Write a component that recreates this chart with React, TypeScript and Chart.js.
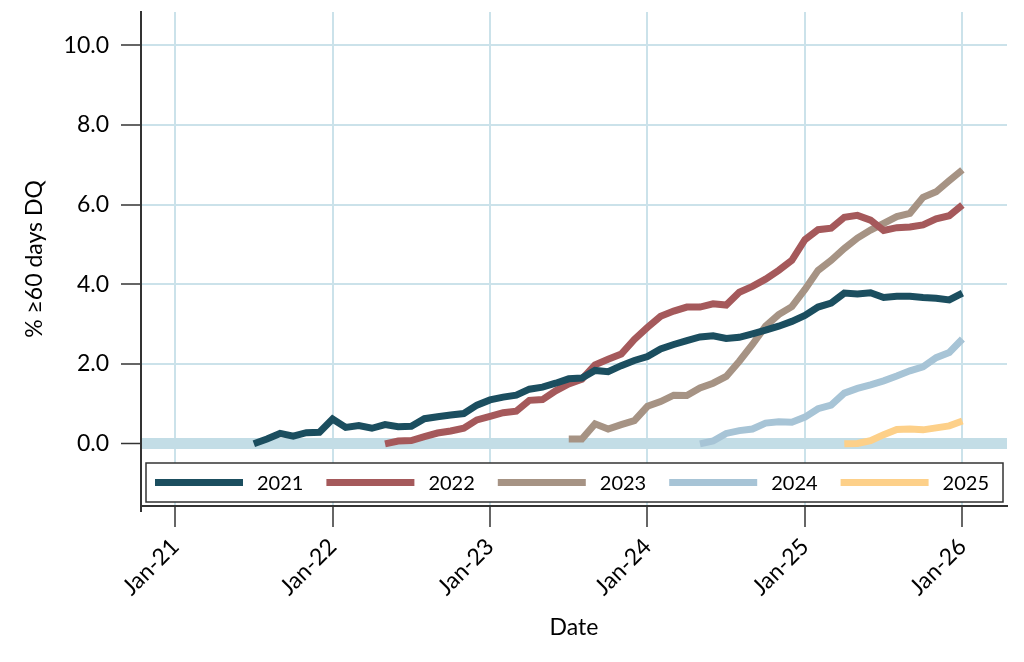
import React, { useEffect, useRef } from 'react';
import { Chart, registerables } from 'chart.js';

Chart.register(...registerables);

// months are counted from Jan 2021 (= 0)
const xTickLabels = ['Jan-21', 'Jan-22', 'Jan-23', 'Jan-24', 'Jan-25', 'Jan-26'];
const yTicks = [0, 2, 4, 6, 8, 10];

const seriesNames = ['2021', '2022', '2023', '2024', '2025'];
const seriesColors = ['#1b4e5f', '#a5595b', '#a69384', '#a7c4d6', '#fdd089'];
const seriesStart = ['2021-07', '2022-05', '2023-07', '2024-05', '2025-04'];

const values2021 = [
  0.0, 0.12, 0.26, 0.19, 0.28, 0.29,
  0.62, 0.41, 0.46, 0.39, 0.48, 0.43, 0.44, 0.63, 0.68, 0.72, 0.76, 0.97,
  1.10, 1.17, 1.22, 1.37, 1.42, 1.52, 1.63, 1.65, 1.84, 1.81, 1.96, 2.09,
  2.19, 2.38, 2.49, 2.59, 2.68, 2.71, 2.64, 2.67, 2.76, 2.85, 2.95, 3.07,
  3.22, 3.43, 3.53, 3.78, 3.76, 3.79, 3.67, 3.70, 3.70, 3.67, 3.65, 3.61,
  3.78,
];
const values2022 = [
  0.0, 0.07, 0.08, 0.18, 0.27, 0.32, 0.39, 0.60,
  0.69, 0.78, 0.82, 1.09, 1.11, 1.33, 1.50, 1.62, 1.98, 2.12, 2.25, 2.62,
  2.92, 3.20, 3.33, 3.43, 3.43, 3.51, 3.48, 3.80, 3.95, 4.13, 4.35, 4.60,
  5.12, 5.37, 5.41, 5.68, 5.73, 5.61, 5.35, 5.42, 5.44, 5.49, 5.64, 5.72,
  5.99,
];
const values2023 = [
  0.12, 0.12, 0.50, 0.37, 0.48, 0.58,
  0.94, 1.06, 1.22, 1.21, 1.40, 1.52, 1.69, 2.07, 2.49, 2.95, 3.24, 3.44,
  3.87, 4.35, 4.60, 4.90, 5.16, 5.36, 5.53, 5.70, 5.78, 6.18, 6.32, 6.60,
  6.87,
];
const values2024 = [
  0.0, 0.07, 0.26, 0.33, 0.37, 0.52, 0.55, 0.54,
  0.67, 0.88, 0.97, 1.27, 1.39, 1.48, 1.58, 1.70, 1.83, 1.93, 2.16, 2.29,
  2.63,
];
const values2025 = [
  0.0, 0.01, 0.08, 0.23, 0.36, 0.37, 0.35, 0.40, 0.45,
  0.57,
];
const seriesValues = [values2021, values2022, values2023, values2024, values2025];

const FONT = 'Lato, "Open Sans", sans-serif';
const FONT_SIZE = 23;
const LEGEND_FONT_SIZE = 20;

const monthIndex = (ym: string) => {
  const [y, m] = ym.split('-').map(Number);
  return (y - 2021) * 12 + (m - 1);
};

// Stata-style legend boxed inside the bottom of the plot area
const insideLegend = {
  id: 'insideLegend',
  afterDraw(chart: any) {
    const { ctx, chartArea } = chart;
    const left = chartArea.left + 5;
    const right = chartArea.right - 4;
    const top = chartArea.bottom - 43;
    const bottom = chartArea.bottom - 4;
    ctx.save();
    ctx.fillStyle = '#ffffff';
    ctx.fillRect(left, top, right - left, bottom - top);
    ctx.strokeStyle = '#333333';
    ctx.lineWidth = 1.5;
    ctx.strokeRect(left, top, right - left, bottom - top);
    const step = (right - left) / chart.data.datasets.length;
    const midY = (top + bottom) / 2;
    ctx.font = `${LEGEND_FONT_SIZE}px ${FONT}`;
    ctx.textBaseline = 'middle';
    ctx.textAlign = 'left';
    chart.data.datasets.forEach((ds: any, i: number) => {
      const x0 = left + 9 + i * step;
      ctx.strokeStyle = ds.borderColor;
      ctx.lineWidth = 7;
      ctx.lineCap = 'butt';
      ctx.beginPath();
      ctx.moveTo(x0, midY);
      ctx.lineTo(x0 + 88, midY);
      ctx.stroke();
      ctx.fillStyle = '#000000';
      ctx.fillText(ds.label, x0 + 102, midY + 1);
    });
    ctx.restore();
  },
};

const App: React.FC = () => {
  const chartRef = useRef<HTMLCanvasElement>(null);
  const chartInstanceRef = useRef<Chart | null>(null);

  useEffect(() => {
    document.body.style.margin = '0';
    if (!chartRef.current) return;
    const ctx = chartRef.current.getContext('2d');
    if (!ctx) return;

    const datasets = seriesNames.map((name, i) => ({
      label: name,
      data: seriesValues[i].map((v, j) => ({ x: monthIndex(seriesStart[i]) + j, y: v })),
      borderColor: seriesColors[i],
      backgroundColor: seriesColors[i],
      borderWidth: 7,
      pointRadius: 0,
      tension: 0,
      fill: false,
    }));

    chartInstanceRef.current = new Chart(ctx, {
      type: 'line',
      data: { datasets },
      plugins: [insideLegend],
      options: {
        animation: false,
        responsive: true,
        maintainAspectRatio: false,
        layout: { padding: { top: 12, right: 17, left: 0, bottom: 0 } },
        plugins: {
          legend: { display: false },
          tooltip: { enabled: false },
        },
        scales: {
          x: {
            type: 'linear',
            min: -2.6,
            max: 63.4,
            afterBuildTicks: (axis: any) => {
              axis.ticks = xTickLabels.map((_, i) => ({ value: i * 12 }));
            },
            afterFit: (axis: any) => {
              axis.height = 156;
              axis.paddingLeft = 0;
              axis.paddingRight = 0;
            },
            ticks: {
              autoSkip: false,
              maxRotation: 45,
              minRotation: 45,
              padding: 6,
              color: '#000000',
              font: { family: FONT, size: FONT_SIZE },
              callback: (value: any) => xTickLabels[Math.round(Number(value) / 12)] ?? '',
            },
            grid: {
              color: '#cbe2ea',
              lineWidth: 2,
              tickColor: '#333333',
              tickWidth: 1.5,
              tickLength: 21,
            },
            border: { color: '#333333', width: 2 },
            title: {
              display: true,
              text: 'Date',
              color: '#000000',
              font: { family: FONT, size: FONT_SIZE },
              padding: { top: 0, bottom: 21 },
            },
          },
          y: {
            min: -1.56,
            max: 10.83,
            afterBuildTicks: (axis: any) => {
              axis.ticks = yTicks.map(v => ({ value: v }));
            },
            afterFit: (axis: any) => {
              axis.width = 141;
              axis.paddingTop = 0;
              axis.paddingBottom = 0;
            },
            ticks: {
              padding: 12,
              color: '#000000',
              font: { family: FONT, size: FONT_SIZE },
              callback: (value: any) => Number(value).toFixed(1),
            },
            grid: {
              color: (c: any) => (c.tick && c.tick.value === 0 ? '#c3dde6' : '#cbe2ea'),
              lineWidth: (c: any) => (c.tick && c.tick.value === 0 ? 11 : 2),
              tickColor: '#333333',
              tickWidth: 1.5,
              tickLength: 20,
            },
            border: { color: '#333333', width: 2 },
            title: {
              display: true,
              text: '% ≥60 days DQ',
              color: '#000000',
              font: { family: FONT, size: FONT_SIZE },
              padding: { top: 21, bottom: 0 },
            },
          },
        },
      } as any,
    });

    return () => {
      if (chartInstanceRef.current) {
        chartInstanceRef.current.destroy();
        chartInstanceRef.current = null;
      }
    };
  }, []);

  return (
    <div style={{ position: 'relative', width: 1024, height: 662, background: '#ffffff' }}>
      <canvas ref={chartRef} aria-label="Share of loans 60+ days delinquent by vintage"></canvas>
    </div>
  );
};

export default App;
